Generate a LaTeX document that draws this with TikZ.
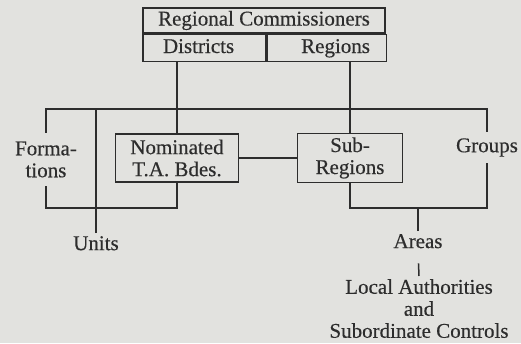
\documentclass[tikz,border=0pt]{standalone}
\usepackage{fontspec}
\setmainfont[FakeBold=0.35]{Liberation Serif}
\usetikzlibrary{positioning}
\definecolor{paper}{RGB}{226,226,223}
\definecolor{ink}{RGB}{45,45,45}

\begin{document}
\begin{tikzpicture}[x=1pt,y=-1pt,
every node/.style={text=ink,font=\fontsize{21}{22}\selectfont,align=center},
box/.style={draw=ink,rectangle,line width=1.5pt,inner sep=0pt},
cell/.style={box,minimum height=27pt,text height=14pt,text depth=4pt},
lbl/.style={inner xsep=0pt,inner ysep=3pt},
link/.style={draw=ink,line width=1.5pt}]
\fill[paper] (0,0) rectangle (521,343);

\node (rc) [box,minimum width=242pt,minimum height=25pt] at (264,20.5) {Regional Commissioners};
\node (dist) [cell,anchor=north west,inner xsep=20pt,text width=83pt,align=left] at (rc.south west) {Districts};
\node (reg) [cell,anchor=north west,inner xsep=16.5pt,text width=86pt,align=right] at (dist.north east) {Regions};

\node (nom) [box,minimum width=123pt,minimum height=48pt] at (177,158) {Nominated\\T.A.\ Bdes.};
\node (sub) [box,minimum width=105pt,minimum height=49pt] at (350,158) {Sub-\\Regions};
\node (form) [lbl,inner ysep=0pt,minimum height=53pt] at (46,159.5) {Forma-\\tions};
\node (groups) [lbl,inner ysep=0pt,minimum height=31pt] at (487,147.5) {Groups};
\node (units) [lbl,anchor=north] at (96,233) {Units};
\node (areas) [lbl,anchor=north] at (418,231) {Areas};
\node (local) [lbl,anchor=north] at (419,276) {Local Authorities\\and\\Subordinate Controls};

\coordinate (bus) at (264,109);
\coordinate (lowL) at (96,208);
\coordinate (lowR) at (418,208);

\draw[link] (nom.north |- dist.south) -- (nom.north);
\draw[link] (sub.north |- reg.south) -- (sub.north);
\draw[link] (form.north) |- (bus) -| (groups.north);
\draw[link] (units.north) -- (units.north |- bus);
\draw[link] (form.south) |- (lowL) -| (nom.south);
\draw[link] (sub.south) |- (lowR) -| (groups.south);
\draw[link] (areas.north) -- (areas.north |- lowR);
\draw[link] (nom) -- (sub);
\draw[link,shorten <=12pt] (areas.south) -- (local.north);
\end{tikzpicture}
\end{document}
